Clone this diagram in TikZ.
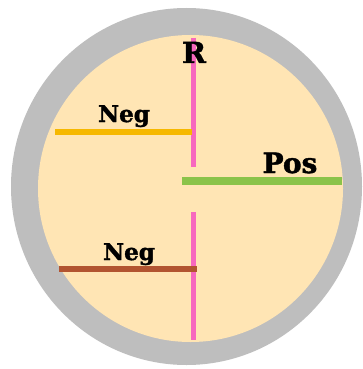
\documentclass[tikz,border=0pt]{standalone}
\usepackage{fontspec}
\newfontfamily\slab[BoldFeatures={FakeBold=1.5}]{DejaVu Serif}
\definecolor{ringgrey}{RGB}{190,190,190}
\definecolor{cream}{RGB}{255,229,180}
\definecolor{rpink}{RGB}{247,104,190}
\definecolor{negorange}{RGB}{246,184,0}
\definecolor{posgreen}{RGB}{139,195,74}
\definecolor{negbrown}{RGB}{178,84,48}
\tikzset{
  lbl/.style={font=\slab\bfseries, text=black, inner sep=0pt, anchor=base},
  bar/.style={line width=#1},
}
\begin{document}
\begin{tikzpicture}[x=1pt,y=-1pt]
\useasboundingbox (0,0) rectangle (362,369);
\fill[white] (0,0) rectangle (362,369);
\fill[ringgrey] (186.5,186.5) ellipse [x radius=175.5, y radius=178.5];
\fill[cream] (190.5,188.5) ellipse [x radius=152.5, y radius=153.5];
% pink vertical segments
\coordinate (rtop) at (193,38);
\coordinate (rmid1) at (193,167);
\coordinate (rmid2) at (193,212);
\coordinate (rbot) at (193,340);
\draw[rpink, bar=5pt] (rtop) -- (rmid1);
\draw[rpink, bar=5pt] (rmid2) -- (rbot);
% bars
\coordinate (o1) at (55,132); \coordinate (o2) at (192,132);
\draw[negorange, bar=6pt] (o1) -- (o2);
\coordinate (g1) at (182,181); \coordinate (g2) at (342,181);
\draw[posgreen, bar=8pt] (g1) -- (g2);
\coordinate (b1) at (59,269); \coordinate (b2) at (197,269);
\draw[negbrown, bar=6pt] (b1) -- (b2);
% labels
\node[lbl, font=\slab\bfseries\fontsize{29}{29}\selectfont] (R) at (194,63) {R};
\node[lbl, font=\slab\bfseries\fontsize{23}{23}\selectfont] (neg1) at (124,122) {Neg};
\node[lbl, font=\slab\bfseries\fontsize{28}{28}\selectfont] (pos) at (290,173) {Pos};
\node[lbl, font=\slab\bfseries\fontsize{23}{23}\selectfont] (neg2) at (129,260) {Neg};
\end{tikzpicture}
\end{document}
